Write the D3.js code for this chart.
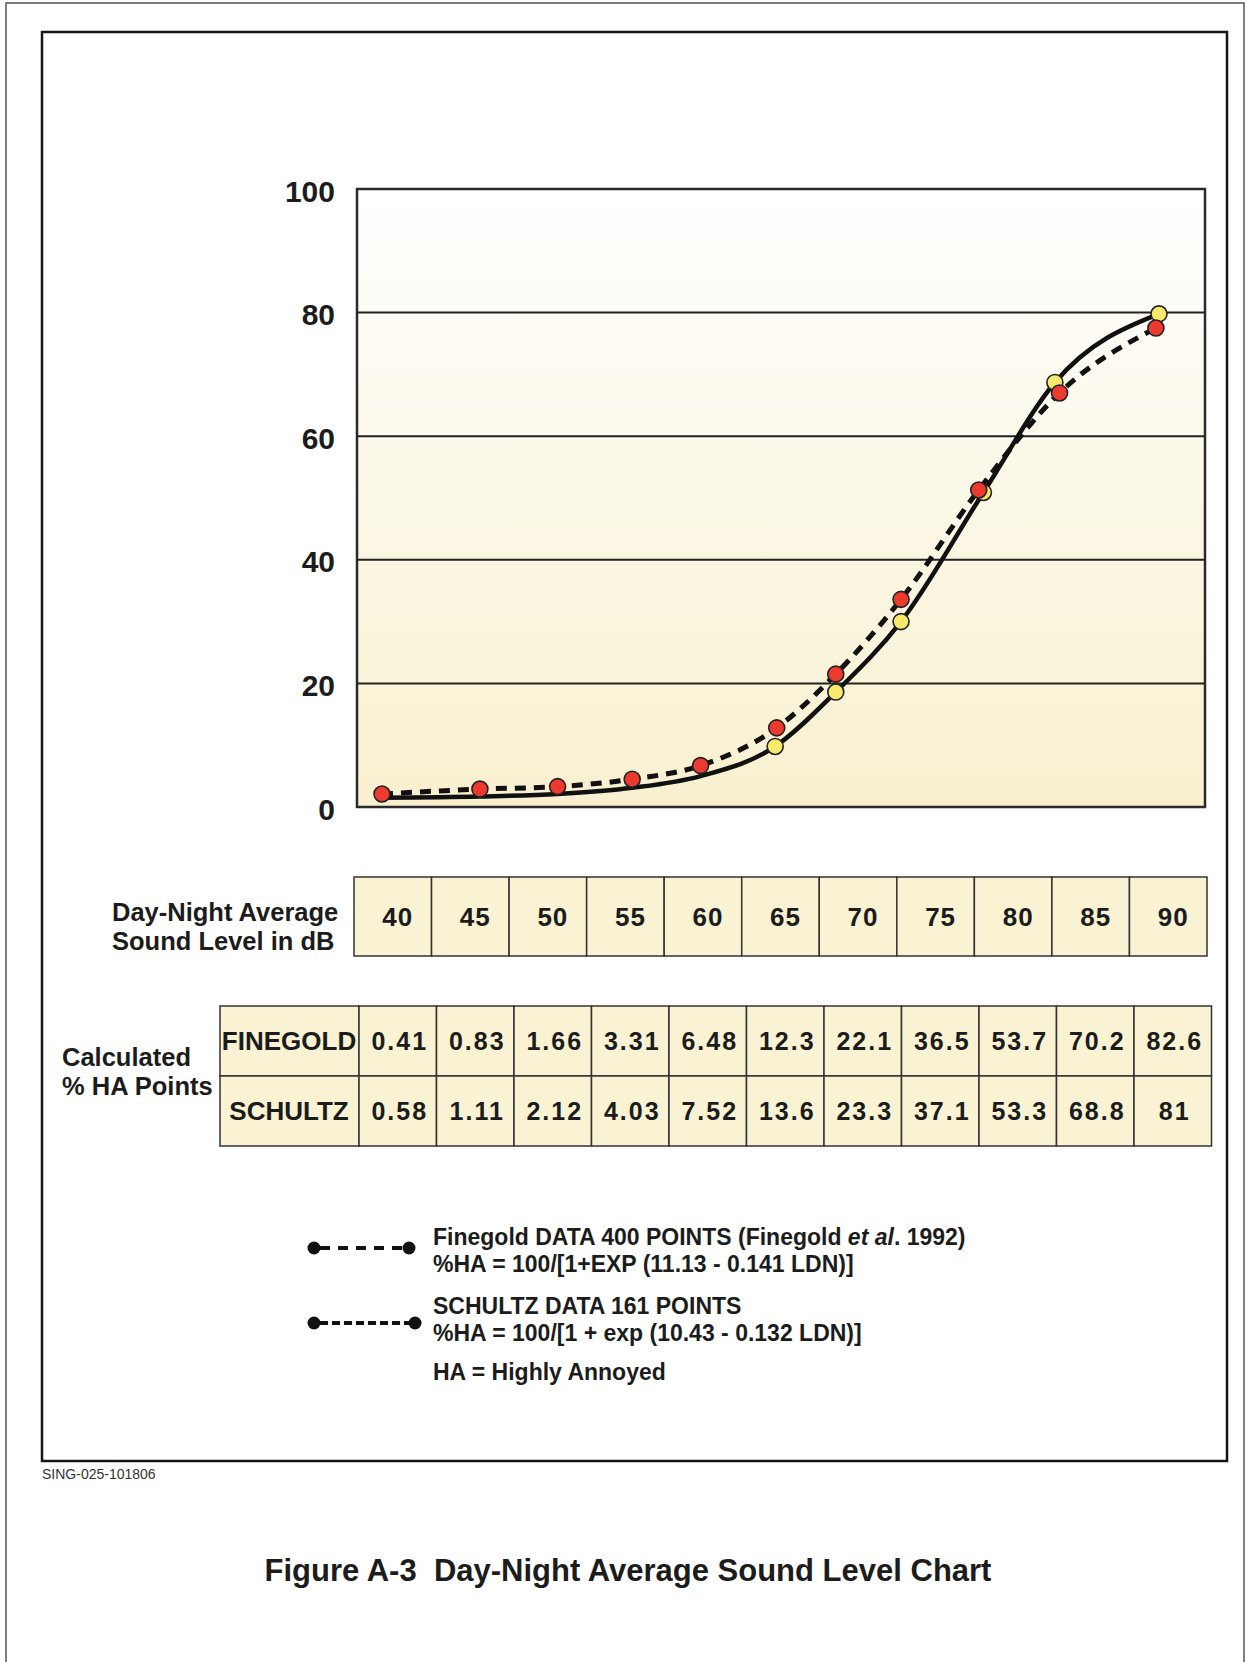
<!DOCTYPE html>
<html>
<head>
<meta charset="utf-8">
<script src="https://cdn.jsdelivr.net/npm/d3@7"></script>
<style>
body { margin: 0; background: #fff; }
svg text { font-family: "Liberation Sans", Arial, sans-serif; font-weight: bold; fill: #1c1c1c; }
</style>
</head>
<body>
<div id="drawarea"></div>
<script>
// Nominal day-night levels (table header)
const ldnLevels = [40, 45, 50, 55, 60, 65, 70, 75, 80, 85, 90];
// Calculated %HA as printed in the table
const finegoldTable = ["0.41", "0.83", "1.66", "3.31", "6.48", "12.3", "22.1", "36.5", "53.7", "70.2", "82.6"];
const schultzTable = ["0.58", "1.11", "2.12", "4.03", "7.52", "13.6", "23.3", "37.1", "53.3", "68.8", "81"];
// Points as they are drawn on the figure (LDN position, %HA)
const finegoldPlotLdn = [40, 46.3, 51.3, 56.1, 60.5, 65.4, 69.2, 73.4, 78.4, 83.6, 89.8];
const finegoldPlotHa = [2.1, 2.9, 3.3, 4.5, 6.7, 12.8, 21.5, 33.6, 51.3, 67.0, 77.5];
const schultzPlotLdn = [40, 46.3, 51.3, 56.1, 60.5, 65.3, 69.2, 73.4, 78.7, 83.3, 90];
const schultzPlotHa = [1.5, 1.7, 2.1, 3.1, 5.0, 9.8, 18.6, 30.0, 50.9, 68.7, 79.8];
const schultzMarkersFrom = 65; // yellow markers only show from here up
const yTicks = [0, 20, 40, 60, 80, 100];
const rowNames = ["FINEGOLD", "SCHULTZ"];

let svg = d3.select("div#drawarea").append("svg")
    .attr("width", 1247)
    .attr("height", 1662);

// page border and figure frame
svg.append("path")
    .attr("d", "M6,1662V3H1244V1662")
    .attr("fill", "none").attr("stroke", "#555").attr("stroke-width", 1.5);
svg.append("rect")
    .attr("x", 42).attr("y", 32).attr("width", 1185).attr("height", 1429)
    .attr("fill", "none").attr("stroke", "#151515").attr("stroke-width", 2.5);

let x = d3.scaleLinear().domain([40, 90]).range([382, 1159]);
let y = d3.scaleLinear().domain([0, 100]).range([807, 189]);

// background gradient of the plot
let grad = svg.append("defs").append("linearGradient")
    .attr("id", "bg").attr("x1", 0).attr("y1", 0).attr("x2", 0).attr("y2", 1);
grad.append("stop").attr("offset", "0%").attr("stop-color", "#ffffff");
grad.append("stop").attr("offset", "100%").attr("stop-color", "#f8f0cf");

svg.append("rect")
    .attr("x", 357).attr("y", y(100))
    .attr("width", 1205 - 357).attr("height", y(0) - y(100))
    .attr("fill", "url(#bg)");

// horizontal grid lines
svg.append("g").selectAll("line")
    .data(yTicks.filter(d => d > 0 && d < 100))
    .join("line")
    .attr("x1", 357).attr("x2", 1205)
    .attr("y1", d => y(d)).attr("y2", d => y(d))
    .attr("stroke", "#222").attr("stroke-width", 2);

svg.append("rect")
    .attr("x", 357).attr("y", y(100))
    .attr("width", 1205 - 357).attr("height", y(0) - y(100))
    .attr("fill", "none").attr("stroke", "#2a2a2a").attr("stroke-width", 2.5);

// y axis labels
let yAxis = svg.append("g")
    .attr("transform", "translate(357,0)")
    .call(d3.axisLeft(y).tickValues(yTicks).tickSize(0).tickPadding(22));
yAxis.select(".domain").remove();
yAxis.selectAll("text")
    .attr("font-size", 30)
    .attr("font-family", null)
    .attr("dy", "0.4em");

let finegold = finegoldPlotLdn.map((d, i) => ({ ldn: d, ha: finegoldPlotHa[i] }));
let schultz = schultzPlotLdn.map((d, i) => ({ ldn: d, ha: schultzPlotHa[i] }));

let line = d3.line()
    .x(d => x(d.ldn))
    .y(d => y(d.ha))
    .curve(d3.curveMonotoneX);

//Schultz solid curve, Finegold dashed curve
svg.append("path")
    .attr("d", line(schultz))
    .attr("fill", "none").attr("stroke", "#111").attr("stroke-width", 4.5);
svg.append("path")
    .attr("d", line(finegold))
    .attr("fill", "none").attr("stroke", "#111").attr("stroke-width", 5)
    .attr("stroke-dasharray", "11,8");

svg.append("g").selectAll("circle")
    .data(schultz.filter(d => d.ldn >= schultzMarkersFrom))
    .join("circle")
    .attr("cx", d => x(d.ldn)).attr("cy", d => y(d.ha)).attr("r", 8)
    .attr("fill", "#f7e96b").attr("stroke", "#222").attr("stroke-width", 1.6);
svg.append("g").selectAll("circle")
    .data(finegold)
    .join("circle")
    .attr("cx", d => x(d.ldn)).attr("cy", d => y(d.ha)).attr("r", 8)
    .attr("fill", "#ec3b2e").attr("stroke", "#222").attr("stroke-width", 1.6);

// Table 1: sound levels
let col1 = d3.scaleBand().domain(ldnLevels).range([354, 1207]);
let t1 = svg.append("g");
t1.selectAll("rect")
    .data(ldnLevels)
    .join("rect")
    .attr("x", d => col1(d)).attr("y", 877)
    .attr("width", col1.bandwidth()).attr("height", 79)
    .attr("fill", "#f9f2d3").attr("stroke", "#333").attr("stroke-width", 1.5);
t1.selectAll("text")
    .data(ldnLevels)
    .join("text")
    .attr("x", d => col1(d) + col1.bandwidth() / 2 + 5)
    .attr("y", 926)
    .attr("text-anchor", "middle")
    .attr("font-size", 26)
    .attr("letter-spacing", 1)
    .text(d => d);

// row labels, kept tight like the original but not overlapping
svg.append("text").attr("x", 112).attr("y", 921).attr("font-size", 25.5).text("Day-Night Average");
svg.append("text").attr("x", 112).attr("y", 950).attr("font-size", 25.5).text("Sound Level in dB");

// Table 2: calculated %HA
let col2 = d3.scaleBand().domain(ldnLevels).range([359, 1211.5]);
let row2 = d3.scaleBand().domain(rowNames).range([1006, 1146]);
let tableRows = [finegoldTable, schultzTable];
let t2 = svg.append("g");

rowNames.forEach((name, r) => {
    t2.append("rect")
        .attr("x", 220).attr("y", row2(name))
        .attr("width", 359 - 220).attr("height", row2.bandwidth())
        .attr("fill", "#f9f2d3").attr("stroke", "#333").attr("stroke-width", 1.5);
    t2.append("text")
        .attr("x", 289).attr("y", row2(name) + row2.bandwidth() / 2 + 9)
        .attr("text-anchor", "middle").attr("font-size", 26)
        .text(name);

    ldnLevels.forEach((lv, i) => {
        t2.append("rect")
            .attr("x", col2(lv)).attr("y", row2(name))
            .attr("width", col2.bandwidth()).attr("height", row2.bandwidth())
            .attr("fill", "#f9f2d3").attr("stroke", "#333").attr("stroke-width", 1.5);
        t2.append("text")
            .attr("x", col2(lv) + col2.bandwidth() / 2 + 2)
            .attr("y", row2(name) + row2.bandwidth() / 2 + 9)
            .attr("text-anchor", "middle").attr("font-size", 25)
            .attr("letter-spacing", 2)
            .text(tableRows[r][i]);
    });
});

svg.append("text").attr("x", 62).attr("y", 1066).attr("font-size", 25.5).text("Calculated");
svg.append("text").attr("x", 62).attr("y", 1095).attr("font-size", 25.5).text("% HA Points");

// Legend
let legend = svg.append("g");
legend.append("line")
    .attr("x1", 320).attr("x2", 403).attr("y1", 1248).attr("y2", 1248)
    .attr("stroke", "#111").attr("stroke-width", 4).attr("stroke-dasharray", "10,8");
legend.append("line")
    .attr("x1", 320).attr("x2", 410).attr("y1", 1323).attr("y2", 1323)
    .attr("stroke", "#111").attr("stroke-width", 4).attr("stroke-dasharray", "8,4");
[[314, 1248], [409, 1248], [314, 1323], [415, 1323]].forEach(p => {
    legend.append("circle").attr("cx", p[0]).attr("cy", p[1]).attr("r", 6.5).attr("fill", "#111");
});

let lt = legend.append("text").attr("x", 433).attr("y", 1245).attr("font-size", 23);
lt.append("tspan").text("Finegold DATA 400 POINTS (Finegold ");
lt.append("tspan").attr("font-style", "italic").text("et al");
lt.append("tspan").text(". 1992)");
legend.append("text").attr("x", 433).attr("y", 1272).attr("font-size", 23)
    .text("%HA = 100/[1+EXP (11.13 - 0.141 LDN)]");
legend.append("text").attr("x", 433).attr("y", 1314).attr("font-size", 23)
    .text("SCHULTZ DATA 161 POINTS");
legend.append("text").attr("x", 433).attr("y", 1341).attr("font-size", 23)
    .text("%HA = 100/[1 + exp (10.43 - 0.132 LDN)]");
legend.append("text").attr("x", 433).attr("y", 1380).attr("font-size", 23)
    .text("HA = Highly Annoyed");

svg.append("text")
    .attr("x", 42).attr("y", 1479)
    .attr("font-size", 14)
    .style("font-weight", "normal").style("fill", "#333")
    .text("SING-025-101806");

svg.append("text")
    .attr("x", 628).attr("y", 1581)
    .attr("text-anchor", "middle").attr("font-size", 31)
    .style("white-space", "pre")
    .text("Figure A-3  Day-Night Average Sound Level Chart");
</script>
</body>
</html>
